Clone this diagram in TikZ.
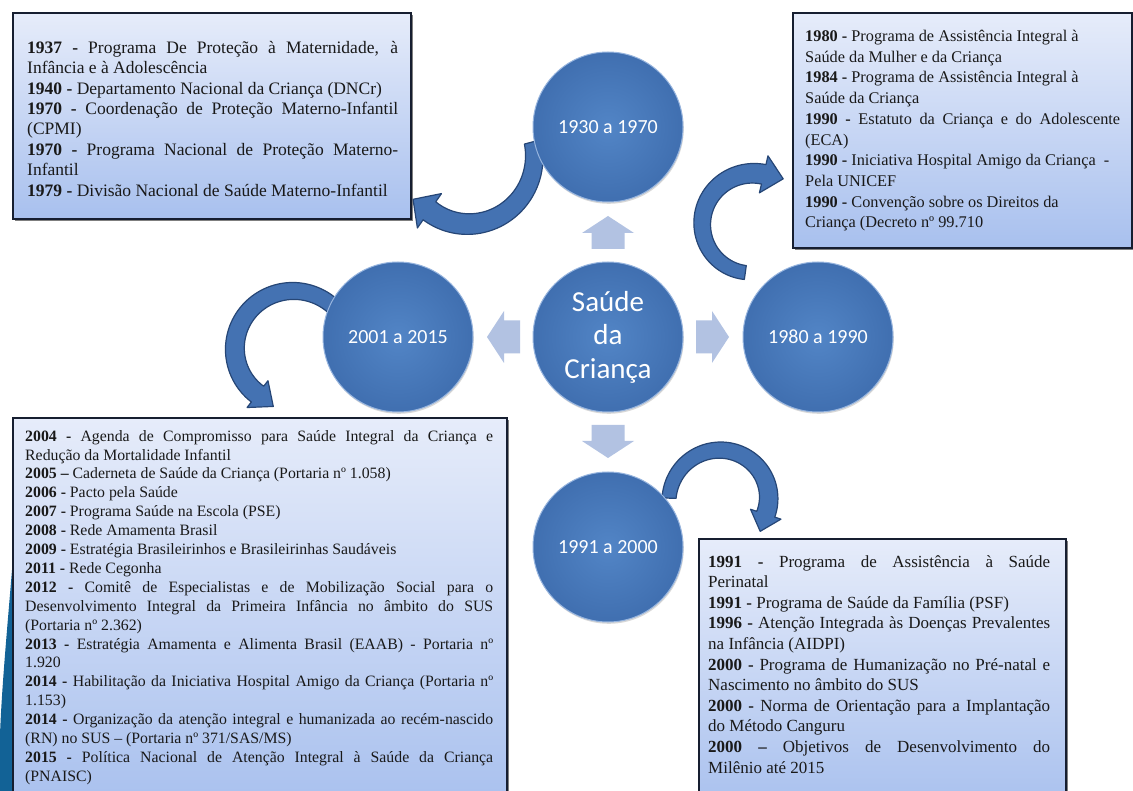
\documentclass[tikz,border=0pt]{standalone}
\usepackage{fontspec}
\setmainfont{Liberation Serif}
\newfontfamily\carlito{Carlito}
\usetikzlibrary{shadows,calc}

\definecolor{arrowblue}{RGB}{68,114,178}
\definecolor{arrowedge}{RGB}{38,70,118}
\definecolor{circin}{RGB}{82,133,198}
\definecolor{circout}{RGB}{64,111,176}
\definecolor{circrim}{RGB}{150,180,222}
\definecolor{blockfill}{RGB}{178,194,226}
\definecolor{boxtop}{RGB}{230,236,250}
\definecolor{boxbot}{RGB}{168,192,238}
\definecolor{boxedge}{RGB}{22,30,48}
\definecolor{sidebar}{RGB}{18,98,150}
\definecolor{txtcol}{RGB}{25,25,25}

\newcommand\hlen{20}
% #1 cx, #2 cy, #3 r tail, #4 r head, #5 angle tail, #6 angle head, #7 width tail, #8 width head, #9 head width
\newcommand\bentarrow[9]{%
  \pgfmathsetmacro\bsg{((#6)-(#5))/abs((#6)-(#5))}%
  \pgfmathsetmacro\bpx{#1+#4*cos(#6)}%
  \pgfmathsetmacro\bpy{#2+#4*sin(#6)}%
  \pgfmathsetmacro\bhox{#1+(#4+#9/2)*cos(#6)}%
  \pgfmathsetmacro\bhoy{#2+(#4+#9/2)*sin(#6)}%
  \pgfmathsetmacro\bhix{#1+(#4-#9/2)*cos(#6)}%
  \pgfmathsetmacro\bhiy{#2+(#4-#9/2)*sin(#6)}%
  \pgfmathsetmacro\btx{\bpx-\bsg*\hlen*sin(#6)}%
  \pgfmathsetmacro\bty{\bpy+\bsg*\hlen*cos(#6)}%
  \filldraw[bentstyle]
    plot[domain=#5:#6,samples=60] ({#1+(#3+(#4-#3)*(\x-(#5))/((#6)-(#5))+(#7+(#8-#7)*(\x-(#5))/((#6)-(#5)))/2)*cos(\x)},{#2+(#3+(#4-#3)*(\x-(#5))/((#6)-(#5))+(#7+(#8-#7)*(\x-(#5))/((#6)-(#5)))/2)*sin(\x)})
    -- (\bhox,\bhoy) -- (\btx,\bty) -- (\bhix,\bhiy)
    -- plot[domain=#6:#5,samples=60] ({#1+(#3+(#4-#3)*(\x-(#5))/((#6)-(#5))-(#7+(#8-#7)*(\x-(#5))/((#6)-(#5)))/2)*cos(\x)},{#2+(#3+(#4-#3)*(\x-(#5))/((#6)-(#5))-(#7+(#8-#7)*(\x-(#5))/((#6)-(#5)))/2)*sin(\x)})
    -- cycle;
}

\tikzset{
  bentstyle/.style={fill=arrowblue, draw=arrowedge, line width=1.2pt, line join=round},
  panel/.style={anchor=north west, inner sep=0pt, draw=boxedge, line width=2.2pt,
    top color=boxtop, bottom color=boxbot,
    drop shadow={shadow xshift=1.5pt, shadow yshift=-1.5pt, opacity=.5, fill=black}},
  txt/.style={anchor=north west, inner sep=0pt, align=justify, text=txtcol,
    execute at begin node={\setlength{\parindent}{0pt}\tolerance=10000\hbadness=10000\hyphenpenalty=10000\exhyphenpenalty=10000}},
  circ/.style={circle, minimum size=150pt, inner sep=0pt, inner color=circin, outer color=circout,
    draw=circrim, line width=1pt, text=white, font=\carlito\fontsize{20}{24}\selectfont,
    drop shadow={opacity=0.3, shadow xshift=0.8pt, shadow yshift=-1.8pt}},
  blockarrow/.style={fill=blockfill}
}

\begin{document}
\begin{tikzpicture}[x=1pt, y=-1pt]
\useasboundingbox (0,0) rectangle (1133,791);
\clip (0,0) rectangle (1133,791);
\fill[white] (0,0) rectangle (1133,791);

% side decoration
\fill[sidebar] (14,545) .. controls (9,610) and (2,680) .. (0,735) -- (0,791) -- (14,791) -- cycle;

% panels
\node[panel, minimum width=398pt, minimum height=206pt] (b1) at (12,12) {};
\node[panel, minimum width=339pt, minimum height=235pt] (b2) at (792,12) {};
\node[panel, minimum width=494pt, minimum height=393pt] (b4) at (12,417) {};
\node[panel, minimum width=367pt, minimum height=272pt] (b3) at (698,538) {};

% panel texts
\node[txt, text width=371pt, font=\fontsize{17.5}{20.4}\selectfont] (t1) at (27,41) {%
\textbf{1937 -} Programa De Proteção à Maternidade, à\linebreak Infância e à Adolescência\\
\textbf{1940 -} Departamento Nacional da Criança (DNCr)\\
\textbf{1970 -} Coordenação de Proteção Materno-Infantil\linebreak (CPMI)\\
\textbf{1970 -} Programa Nacional de Proteção Materno-\linebreak Infantil\\
\textbf{1979 -} Divisão Nacional de Saúde Materno-Infantil};

\node[txt, text width=315pt, font=\fontsize{16.3}{20.7}\selectfont] (t2) at (805,30) {%
\textbf{1980 -} Programa de Assistência Integral à\\
Saúde da Mulher e da Criança\\
\textbf{1984 -} Programa de Assistência Integral à\\
Saúde da Criança\\
\textbf{1990 -} Estatuto da Criança e do Adolescente\linebreak (ECA)\\
\textbf{1990 -} Iniciativa Hospital Amigo da Criança\ \ -\\
Pela UNICEF\\
\textbf{1990 -} Convenção sobre os Direitos da\\
Criança (Decreto nº 99.710};

\node[txt, text width=468pt, font=\fontsize{15.8}{18.9}\selectfont] (t4) at (25,430) {%
\textbf{2004 -} Agenda de Compromisso para Saúde Integral da Criança e\linebreak Redução da Mortalidade Infantil\\
\textbf{2005 –} Caderneta de Saúde da Criança (Portaria nº 1.058)\\
\textbf{2006 -} Pacto pela Saúde\\
\textbf{2007 -} Programa Saúde na Escola (PSE)\\
\textbf{2008 -} Rede Amamenta Brasil\\
\textbf{2009 -} Estratégia Brasileirinhos e Brasileirinhas Saudáveis\\
\textbf{2011 -} Rede Cegonha\\
\textbf{2012 -} Comitê de Especialistas e de Mobilização Social para o\linebreak Desenvolvimento Integral da Primeira Infância no âmbito do SUS\linebreak (Portaria nº 2.362)\\
\textbf{2013 -} Estratégia Amamenta e Alimenta Brasil (EAAB) - Portaria nº\linebreak 1.920\\
\textbf{2014 -} Habilitação da Iniciativa Hospital Amigo da Criança (Portaria nº\linebreak 1.153)\\
\textbf{2014 -} Organização da atenção integral e humanizada ao recém-nascido\linebreak (RN) no SUS – (Portaria nº 371/SAS/MS)\\
\textbf{2015 -} Política Nacional de Atenção Integral à Saúde da Criança\linebreak (PNAISC)};

\node[txt, text width=342pt, font=\fontsize{17}{20.6}\selectfont] (t3) at (708,555) {%
\textbf{1991 -} Programa de Assistência à Saúde\linebreak Perinatal\\
\textbf{1991 -} Programa de Saúde da Família (PSF)\\
\textbf{1996 -} Atenção Integrada às Doenças Prevalentes\linebreak na Infância (AIDPI)\\
\textbf{2000 -} Programa de Humanização no Pré-natal e\linebreak Nascimento no âmbito do SUS\\
\textbf{2000 -} Norma de Orientação para a Implantação\linebreak do Método Canguru\\
\textbf{2000 –} Objetivos de Desenvolvimento do\linebreak Milênio até 2015};

% curved arrows
\renewcommand\hlen{20}
\bentarrow{465}{160}{70}{62}{-15}{125}{17}{22}{42}
\bentarrow{752}{225}{48}{52}{98}{283}{14}{20}{38}
\bentarrow{292}{350}{60}{56}{-45}{-232}{16}{20}{34}
\renewcommand\hlen{18}
\bentarrow{722}{500}{53}{46}{-178}{18}{14}{19}{32}

% circles
\node[circ] (c1) at (608,127) {1930 a 1970};
\node[circ] (c2) at (818,337) {1980 a 1990};
\node[circ] (c3) at (608,547) {1991 a 2000};
\node[circ] (c4) at (398,337) {2001 a 2015};
\node[circ, font=\carlito\fontsize{29}{33.5}\selectfont, align=center] (c0) at (608,337) {Saúde\\da\\Criança};

% block arrows from the centre
\begin{scope}[shift={(c0)}]
\fill[blockarrow] (0,-121) -- (26,-104) -- (16.5,-104) -- (16.5,-88) -- (-16.5,-88) -- (-16.5,-104) -- (-26,-104) -- cycle;
\fill[blockarrow] (0,121) -- (26,104) -- (16.5,104) -- (16.5,88) -- (-16.5,88) -- (-16.5,104) -- (-26,104) -- cycle;
\fill[blockarrow] (121,0) -- (104,-26) -- (104,-16.5) -- (88,-16.5) -- (88,16.5) -- (104,16.5) -- (104,26) -- cycle;
\fill[blockarrow] (-121,0) -- (-104,-26) -- (-104,-16.5) -- (-88,-16.5) -- (-88,16.5) -- (-104,16.5) -- (-104,26) -- cycle;
\end{scope}
\end{tikzpicture}
\end{document}
